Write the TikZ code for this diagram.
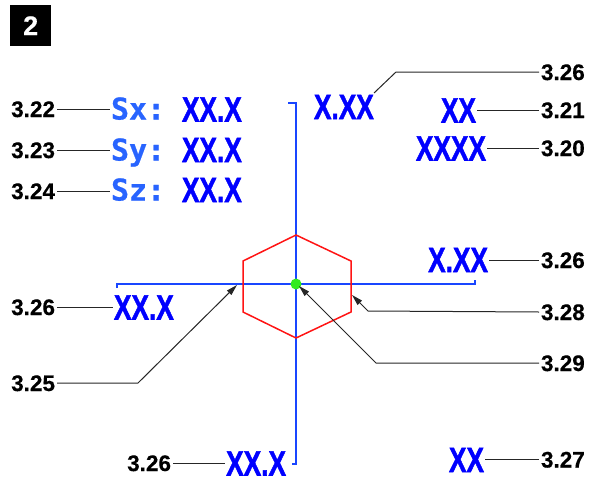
\documentclass[tikz,border=0pt]{standalone}
\usepackage{fontspec}
\setmainfont{Liberation Sans}
\newfontfamily\monof[FakeBold=0.6]{DejaVu Sans Mono Bold}
\newfontfamily\valf[FakeBold=1.6]{Liberation Sans Bold}
\newfontfamily\labf[FakeBold=0.5]{Liberation Sans Bold}
\usetikzlibrary{arrows.meta}
\definecolor{valblue}{RGB}{0,0,255}
\definecolor{sblue}{RGB}{40,100,255}
\definecolor{axisblue}{RGB}{25,70,255}
\definecolor{hexred}{RGB}{255,20,20}
\definecolor{dotgreen}{RGB}{50,235,30}
\newcommand{\valtxt}[1]{\scalebox{0.75}[1]{#1}}
\tikzset{
  lab/.style={font=\labf\fontsize{22.5}{24}\selectfont, inner sep=0pt, outer sep=2pt, text height=16pt, text depth=0pt},
  val/.style={text=valblue, font=\valf\fontsize{35}{36}\selectfont, inner sep=0pt, outer sep=1pt, text height=25pt, text depth=0pt},
  sname/.style={text=sblue, font=\monof\fontsize{30}{32}\selectfont, inner sep=0pt, outer sep=1pt, text height=22pt, text depth=0pt},
  leader/.style={draw=black!85, line width=1pt},
  pointer/.style={leader, -{Triangle[length=11pt,width=6pt]}},
  axis/.style={draw=axisblue, line width=2pt},
}
\begin{document}
\begin{tikzpicture}[x=1pt,y=-1pt]
\useasboundingbox (0,0) rectangle (596,479);
% badge
\node[fill=black, minimum width=41pt, minimum height=41pt, inner sep=0pt, anchor=north west,
      text=white, font=\labf\fontsize{27}{28}\selectfont] (badge) at (10,5) {2};
% axes
\draw[axis] (288,103) -- (296,103) -- (296,464) -- (292,464);
\draw[axis] (117,288) -- (117,284) -- (475,284) -- (475,280);
% hexagon
\draw[hexred, line width=1.5pt] (296,235) -- (351,261) -- (351,312) -- (296,338) -- (243,312) -- (243,261) -- cycle;
% green dot
\fill[dotgreen] (296,284) circle (5.5pt);
% left value block
\node[sname, anchor=west] (sx) at (110,108.5) {Sx:};
\node[sname, anchor=west] (sy) at (110,149.5) {Sy:};
\node[sname, anchor=west] (sz) at (110,189.5) {Sz:};
\node[val, anchor=west] (sxv) at (181,109) {\valtxt{XX.X}};
\node[val, anchor=west] (syv) at (181,149.5) {\valtxt{XX.X}};
\node[val, anchor=west] (szv) at (181,189.5) {\valtxt{XX.X}};
\node[lab, anchor=east] (l322) at (57,109) {3.22};
\node[lab, anchor=east] (l323) at (57,150) {3.23};
\node[lab, anchor=east] (l324) at (57,191) {3.24};
\draw[leader] (l322.east) -- (sx.west |- l322.east);
\draw[leader] (l323.east) -- (sy.west |- l323.east);
\draw[leader] (l324.east) -- (sz.west |- l324.east);
% top values
\node[val, anchor=west] (tv) at (313,106.5) {\valtxt{X.XX}};
\node[val, anchor=east] (xx1) at (477,110) {\valtxt{XX}};
\node[val, anchor=east] (xxxx) at (487,148) {\valtxt{XXXX}};
\node[lab, anchor=west] (l326a) at (539,72) {3.26};
\node[lab, anchor=west] (l321) at (539,110) {3.21};
\node[lab, anchor=west] (l320) at (539,148) {3.20};
\coordinate (k1) at (396,72);
\coordinate (k1e) at (374,93);
\draw[leader] (l326a.west) -- (k1) -- (k1e);
\draw[leader] (l321.west) -- (xx1.east |- l321.west);
\draw[leader] (l320.west) -- (xxxx.east |- l320.west);
% middle right
\node[val, anchor=east] (rv) at (489,259.5) {\valtxt{X.XX}};
\node[lab, anchor=west] (l326b) at (539,260) {3.26};
\draw[leader] (l326b.west) -- (rv.east |- l326b.west);
\node[lab, anchor=west] (l328) at (539,312) {3.28};
\node[lab, anchor=west] (l329) at (539,363) {3.29};
\coordinate (k28) at (368,311);
\coordinate (t28) at (352,295);
\coordinate (k29) at (376,363);
\coordinate (t29) at (299,286);
\draw[pointer] (l328.west) -- (k28) -- (t28);
\draw[pointer] (l329.west) -- (k29) -- (t29);
% left middle
\node[val, anchor=west] (lv) at (113,307) {\valtxt{XX.X}};
\node[lab, anchor=east] (l326c) at (57,307) {3.26};
\draw[leader] (l326c.east) -- (lv.west |- l326c.east);
\node[lab, anchor=east] (l325) at (57,383) {3.25};
\coordinate (k25) at (138,383);
\coordinate (t25) at (237,285);
\draw[pointer] (l325.east) -- (k25) -- (t25);
% bottom
\node[val, anchor=east] (bv) at (287,463) {\valtxt{XX.X}};
\node[lab, anchor=east] (l326d) at (173,463) {3.26};
\draw[leader] (l326d.east) -- (bv.west |- l326d.east);
\node[val, anchor=east] (xx2) at (485,459.5) {\valtxt{XX}};
\node[lab, anchor=west] (l327) at (539,459.5) {3.27};
\draw[leader] (l327.west) -- (xx2.east |- l327.west);
\end{tikzpicture}
\end{document}
